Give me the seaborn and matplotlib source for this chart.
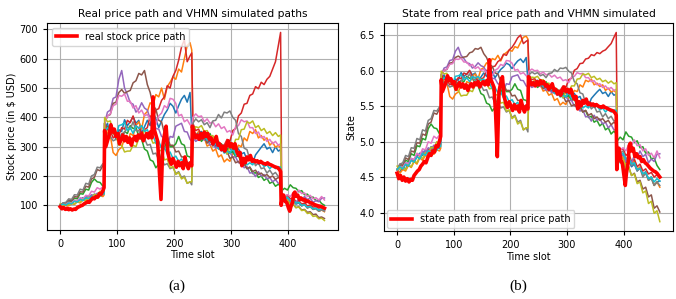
import numpy as np
import matplotlib
matplotlib.use("Agg")
import matplotlib.pyplot as plt
import seaborn as sns

# real price path
t_real = [0, 3, 6, 9, 12, 15, 18, 21, 24, 27, 30, 33, 36, 39, 42, 45, 48, 51, 54, 57,
          60, 63, 66, 69, 72, 75, 77, 78, 80, 83, 86, 89, 92, 95, 98, 101, 104, 107,
          110, 113, 116, 119, 122, 125, 128, 131, 134, 137, 140, 143, 146, 149, 152,
          155, 158, 161, 163, 165, 168, 171, 174, 177, 180, 183, 186, 189, 192, 195,
          198, 201, 204, 207, 210, 213, 216, 219, 222, 225, 228, 231, 232, 235, 238,
          241, 244, 247, 250, 253, 256, 259, 262, 265, 268, 271, 274, 277, 280, 283,
          286, 289, 292, 295, 298, 301, 304, 307, 310, 313, 316, 319, 322, 325, 328,
          331, 334, 337, 340, 343, 346, 349, 352, 355, 358, 361, 364, 367, 370, 373,
          376, 379, 382, 385, 387, 388, 390, 392, 395, 398, 401, 403, 405, 408, 410,
          412, 414, 417, 420, 423, 426, 429, 432, 435, 438, 441, 444, 447, 450, 453,
          456, 459, 462, 464]
real_price = [95, 88, 92, 86, 90, 85, 88, 84, 87, 86, 92, 95, 98, 100, 105, 108, 112, 110, 118, 125,
              122, 130, 128, 140, 138, 150, 160, 355, 300, 320, 340, 375, 350, 360, 335, 345, 310, 325,
              340, 320, 335, 315, 330, 305, 325, 335, 320, 340, 330, 345, 320, 335, 345,
              330, 350, 330, 470, 360, 340, 320, 220, 120, 300, 340, 370, 280, 255, 240,
              260, 245, 230, 250, 235, 245, 225, 265, 240, 225, 245, 235, 370, 345, 330,
              340, 325, 345, 330, 350, 335, 345, 325, 330, 310, 320, 335, 305, 310, 290,
              300, 285, 305, 320, 300, 310, 295, 310, 285, 270, 280, 235, 260, 245, 265,
              255, 270, 250, 255, 248, 252, 245, 250, 245, 242, 240, 245, 240, 238, 235,
              232, 230, 228, 222, 215, 100, 125, 135, 115, 108, 90, 80, 95, 110, 140,
              145, 130, 135, 120, 125, 118, 120, 112, 115, 110, 108, 105, 102, 100, 98,
              97, 95, 92, 90]

# time grid of the simulated paths (restarted at 78, 233 and 389)
t_sim = [0, 5, 10, 15, 20, 25, 30, 35, 40, 45, 50, 55, 60, 65, 70, 75, 77,
         78, 83, 88, 93, 98, 103, 108, 113, 118, 123, 128, 133, 138, 143, 148, 153,
         158, 163, 168, 173, 178, 183, 188, 193, 198, 203, 208, 213, 218, 223, 228, 231,
         233, 238, 243, 248, 253, 258, 263, 268, 273, 278, 283, 288, 293, 298, 303, 308,
         313, 318, 323, 328, 333, 338, 343, 348, 353, 358, 363, 368, 373, 378, 383, 387,
         389, 394, 399, 404, 409, 414, 419, 424, 429, 434, 439, 444, 449, 454, 459, 464]

sim_1 = [100, 96, 105, 100, 111, 116, 112, 120, 126, 122, 132, 126, 138, 134, 142, 135, 142,
         360, 380, 342, 350, 325, 358, 352, 392, 372, 385, 402, 380, 390, 345, 368, 390,
         372, 418, 395, 365, 388, 410, 425, 448, 438, 415, 440, 462, 475, 452, 485, 350,
         350, 335, 345, 352, 332, 340, 315, 322, 300, 318, 295, 305, 288, 298, 278, 300,
         292, 275, 280, 255, 262, 245, 272, 285, 298, 310, 292, 298, 280, 300, 285, 290,
         130, 120, 124, 110, 114, 104, 108, 98, 103, 94, 97, 88, 90, 80, 84, 85]
sim_2 = [100, 95, 100, 98, 106, 103, 112, 108, 118, 114, 122, 120, 128, 124, 132, 130, 135,
         380, 345, 338, 280, 270, 290, 298, 330, 312, 345, 338, 372, 385, 360, 410, 420,
         450, 440, 478, 470, 500, 462, 505, 520, 538, 530, 565, 555, 600, 645, 655, 630,
         360, 340, 352, 325, 330, 302, 308, 285, 292, 265, 272, 248, 258, 250, 275, 280,
         305, 300, 330, 320, 352, 345, 358, 330, 338, 322, 330, 305, 315, 298, 305, 295,
         125, 116, 120, 106, 112, 108, 114, 100, 104, 92, 96, 86, 90, 80, 84, 78]
sim_3 = [100, 106, 104, 114, 112, 125, 122, 140, 138, 155, 152, 178, 190, 180, 178, 165, 170,
         350, 368, 355, 360, 338, 345, 325, 352, 345, 372, 362, 365, 335, 325, 292, 285,
         255, 250, 228, 240, 275, 295, 325, 300, 300, 310, 335, 310, 305, 268, 265, 250,
         340, 328, 338, 318, 330, 325, 345, 322, 328, 305, 310, 292, 295, 278, 285, 265,
         270, 245, 245, 225, 230, 208, 212, 195, 200, 185, 192, 175, 180, 165, 172, 165,
         150, 158, 152, 170, 160, 158, 146, 150, 136, 138, 126, 128, 116, 118, 106, 100]
sim_4 = [100, 104, 101, 108, 105, 114, 112, 120, 117, 126, 124, 134, 131, 140, 137, 148, 148,
         380, 358, 355, 330, 338, 340, 365, 360, 390, 382, 405, 370, 365, 345, 358, 365,
         405, 398, 425, 430, 458, 470, 508, 500, 540, 560, 595, 640, 665, 590, 610, 620,
         380, 355, 360, 338, 345, 328, 335, 312, 318, 298, 306, 305, 325, 318, 355, 362,
         405, 415, 445, 448, 475, 480, 505, 498, 520, 512, 530, 540, 565, 590, 645, 690,
         140, 132, 134, 122, 126, 112, 116, 104, 108, 98, 101, 94, 96, 90, 93, 90]
sim_5 = [100, 105, 103, 110, 108, 117, 115, 124, 121, 130, 127, 136, 133, 141, 138, 146, 145,
         380, 418, 425, 465, 470, 530, 560, 500, 478, 450, 445, 418, 428, 450, 432, 425,
         395, 392, 362, 360, 335, 330, 305, 335, 332, 370, 375, 380, 352, 350, 325, 320,
         330, 318, 325, 335, 322, 325, 305, 312, 295, 298, 285, 290, 275, 280, 265, 265,
         245, 248, 228, 232, 210, 212, 198, 215, 200, 205, 190, 195, 180, 188, 175, 175,
         130, 122, 124, 112, 118, 110, 122, 118, 130, 120, 124, 110, 116, 112, 124, 125]
sim_6 = [100, 108, 106, 118, 115, 130, 128, 146, 145, 165, 162, 190, 195, 222, 218, 236, 235,
         380, 405, 410, 448, 452, 485, 495, 482, 488, 492, 518, 525, 550, 545, 560, 512,
         485, 440, 428, 390, 385, 345, 335, 305, 305, 282, 285, 265, 265, 245, 245, 230,
         350, 335, 345, 325, 335, 312, 325, 302, 315, 292, 305, 280, 285, 260, 265, 245,
         250, 238, 240, 225, 230, 215, 220, 205, 210, 200, 205, 195, 200, 188, 195, 190,
         120, 110, 114, 100, 104, 92, 95, 84, 86, 76, 78, 68, 70, 58, 60, 55]
sim_7 = [100, 104, 103, 110, 108, 117, 115, 126, 122, 134, 132, 148, 145, 160, 155, 163, 160,
         380, 405, 412, 440, 445, 475, 472, 480, 455, 455, 432, 440, 415, 425, 405, 410,
         392, 398, 375, 405, 415, 440, 432, 465, 462, 448, 405, 410, 385, 392, 375, 370,
         400, 412, 402, 405, 385, 395, 380, 385, 368, 378, 362, 368, 350, 355, 340, 368,
         372, 392, 385, 388, 365, 365, 345, 350, 330, 335, 318, 325, 310, 318, 305, 310,
         140, 132, 136, 130, 142, 140, 152, 140, 142, 130, 134, 122, 126, 118, 130, 118]
sim_8 = [100, 108, 110, 122, 120, 136, 135, 155, 152, 175, 172, 200, 205, 230, 228, 242, 240,
         360, 338, 335, 320, 325, 325, 345, 348, 368, 360, 385, 355, 355, 325, 328, 305,
         308, 275, 278, 255, 258, 238, 242, 225, 230, 208, 215, 195, 200, 175, 180, 170,
         380, 395, 385, 392, 375, 382, 365, 388, 390, 410, 398, 418, 415, 422, 400, 390,
         345, 335, 295, 290, 255, 260, 235, 245, 225, 228, 210, 220, 205, 212, 198, 200,
         135, 126, 130, 116, 120, 106, 110, 98, 102, 90, 95, 86, 88, 80, 84, 80]
sim_9 = [105, 100, 103, 100, 107, 104, 113, 110, 120, 117, 127, 125, 137, 135, 148, 145, 150,
         400, 385, 388, 345, 338, 305, 305, 282, 285, 285, 305, 300, 328, 330, 358, 335,
         335, 312, 315, 285, 288, 255, 258, 228, 232, 205, 212, 190, 196, 175, 180, 180,
         350, 368, 365, 372, 352, 355, 335, 338, 315, 318, 295, 295, 275, 298, 295, 325,
         325, 358, 360, 385, 380, 388, 365, 372, 355, 362, 345, 352, 338, 348, 335, 340,
         130, 116, 118, 102, 104, 92, 94, 82, 84, 72, 74, 62, 64, 54, 56, 48]
sim_10 = [100, 104, 101, 108, 105, 114, 111, 120, 116, 126, 122, 131, 127, 135, 131, 139, 138,
          350, 365, 352, 358, 335, 372, 375, 382, 355, 365, 345, 372, 362, 372, 352, 358,
          335, 338, 312, 318, 295, 298, 275, 282, 260, 268, 250, 258, 240, 248, 236, 240,
          360, 342, 345, 330, 340, 322, 325, 308, 315, 292, 298, 278, 285, 278, 295, 272,
          275, 252, 255, 238, 245, 238, 255, 240, 245, 232, 238, 225, 235, 225, 232, 230,
          130, 124, 126, 116, 118, 108, 110, 100, 102, 94, 96, 88, 90, 84, 88, 85]

sims = [sim_1, sim_2, sim_3, sim_4, sim_5, sim_6, sim_7, sim_8, sim_9, sim_10]
colors = sns.color_palette("tab10", 10)

plt.rcParams['font.family'] = ['DejaVu Sans']
fig = plt.figure(figsize=(6.76, 2.99), dpi=100)
ax1 = fig.add_axes([0.0695, 0.231, 0.430, 0.692])
ax2 = fig.add_axes([0.568, 0.227, 0.4275, 0.696])

for ax, log in [(ax1, False), (ax2, True)]:
    for s, c in zip(sims, colors):
        y = np.log(s) if log else np.array(s)
        sns.lineplot(x=t_sim, y=y, color=c, lw=1.1, ax=ax, estimator=None, sort=False)
    # state = log of the price
    y = np.log(real_price) if log else np.array(real_price)
    lab = "state path from real price path" if log else "real stock price path"
    sns.lineplot(x=t_real, y=y, color="red", lw=2.6, ax=ax, estimator=None, sort=False, label=lab)
    ax.grid(True, color="#b0b0b0", lw=0.8)
    ax.set_axisbelow(True)
    ax.tick_params(labelsize=7, length=3)
    ax.set_xlabel("Time slot", fontsize=7, labelpad=1)
    ax.set_xticks([0, 100, 200, 300, 400])

ax1.set_title("Real price path and VHMN simulated paths", fontsize=7.7, pad=4)
ax1.set_ylabel("Stock price (in $ USD)", fontsize=7, labelpad=2)
ax1.set_yticks([100, 200, 300, 400, 500, 600, 700])
ax1.legend(loc="upper left", fontsize=7, handlelength=2.2, borderaxespad=0.5)

ax2.set_title("State from real price path and VHMN simulated", fontsize=7.7, pad=4)
ax2.set_ylabel("State", fontsize=7, labelpad=2)
ax2.set_yticks([4.0, 4.5, 5.0, 5.5, 6.0, 6.5])
ax2.legend(loc="lower left", fontsize=7, handlelength=2.2, borderaxespad=0.3)

fig.text(0.261, 0.03, "(a)", fontsize=11, family="Liberation Serif", ha="center")
fig.text(0.767, 0.03, "(b)", fontsize=11, family="Liberation Serif", ha="center")

fig.savefig("out.png", dpi=100)
